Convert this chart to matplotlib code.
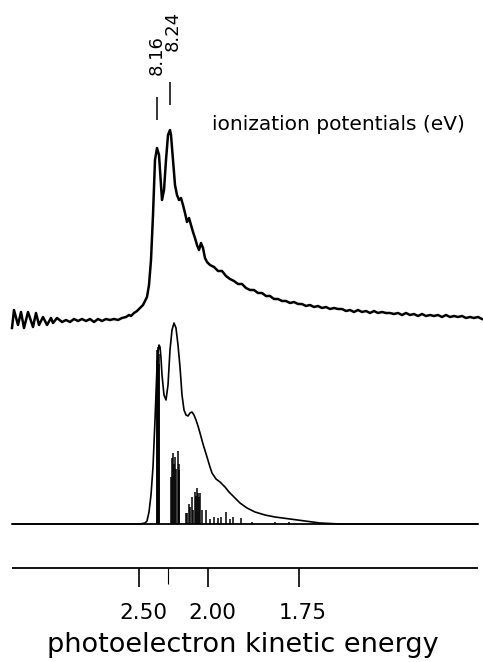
import matplotlib
matplotlib.use('Agg')
import matplotlib.pyplot as plt
import numpy as np

# 数据 (x 为通道坐标, 强度为相对基线的高度)
exp_x = [12, 14, 18, 21, 24, 28, 33, 36, 39, 43, 47, 51, 53, 57, 62,
         66, 70, 74, 78, 82, 86, 90, 94, 98, 102, 106, 110, 114, 118, 122,
         126, 129, 131, 134, 137, 140, 143, 147, 149, 151, 153, 155, 157, 159,
         161, 162, 164, 166, 168, 170, 171, 173, 175, 177, 179, 181, 183, 185,
         187, 189, 191, 193, 195, 197, 199, 201, 203, 205, 207,
         210, 214, 218, 222, 226, 230, 234, 238, 242, 246, 250, 254, 258, 262,
         266, 270, 274, 278, 282, 286, 290, 294, 298, 302, 306, 310, 314, 318,
         322, 326, 330, 334, 338, 342, 346, 350, 354, 358, 362, 366, 370, 374,
         378, 382, 386, 390, 394, 398, 402, 406, 410, 414, 418, 422, 426, 430,
         434, 438, 442, 446, 450, 454, 458, 462, 466, 470, 474, 478, 482]
exp_y = [-8, 10, -5, 8, -8, 8, -7, 7, -5, 3, -5, 2, -3, 2, -2,
         0, -2, 1, -1, 1, -1, 1, -2, 1, -1, 1, 0, 1, 0, 2,
         3, 5, 4, 7, 9, 12, 15, 23, 35, 60, 105, 160, 172, 165,
         135, 120, 130, 160, 185, 190, 185, 160, 135, 125, 120, 122, 115, 107,
         98, 102, 95, 88, 82, 75, 70, 77, 72, 62, 58,
         55, 53, 49, 49, 44, 41, 39, 36, 36, 32, 30, 30, 27, 27,
         24, 24, 21, 21, 19, 19, 17, 18, 16, 16, 14, 15, 13, 14,
         12, 13, 11, 12, 11, 11, 9, 10, 8, 10, 8, 9, 7, 9,
         7, 8, 7, 7, 6, 7, 5, 7, 5, 6, 4, 6, 4, 5,
         4, 5, 3, 5, 3, 4, 3, 4, 2, 3, 2, 3, 1]

env_x = [12, 140, 145, 147, 149, 151, 153, 155, 157, 158, 159, 160, 161, 162,
         164, 166, 168, 170, 172, 174, 176, 178, 180, 182, 184, 186, 188, 190,
         192, 194, 196, 198, 200, 203, 207, 210, 212, 216, 220, 225, 229, 235,
         240, 247, 255, 265, 275, 290, 305, 320, 340, 478]
env_y = [0, 0, 1, 3, 12, 29, 57, 104, 157, 172, 179, 177, 166, 149,
         129, 124, 139, 174, 194, 201, 196, 179, 157, 129, 114, 109, 108, 111,
         112, 109, 104, 98, 91, 80, 67, 57, 51, 45, 42, 37, 32, 26,
         21, 16, 12, 9, 7, 5, 3, 1, 0, 0]

stick_x = [156.5, 157.2, 157.8, 158.5, 159.2, 171, 172, 173, 174, 175, 176,
           177.5, 178.5, 179, 186, 187, 189, 190, 191.5, 193, 195, 196, 197,
           198, 199, 200, 201.5, 206, 210, 214, 218, 221, 226, 230, 233, 241,
           252, 275, 289]
stick_h = [164, 174, 177, 170, 160, 47, 66, 71, 60, 67, 55,
           73, 60, 54, 11, 11, 20, 17, 27, 14, 32, 28, 36,
           31, 27, 31, 14, 14, 5, 7, 6, 7, 12, 5, 7, 6,
           2, 2, 2]

tick_pos = [139, 208, 299]
tick_labels = ['2.50', '2.00', '1.75']
minor_tick_pos = [168]

ip_pos = [157, 170]
ip_labels = ['8.16', '8.24']

# 位置 (像素布局)
EXP_BASE = 342
SIM_BASE = 138
AXIS_Y = 94

fig = plt.figure(figsize=(4.83, 6.62), dpi=100)
ax = fig.add_axes([0, 0, 1, 1])
ax.set_xlim(0, 483)
ax.set_ylim(0, 662)
ax.axis('off')

# 实验谱
ax.plot(exp_x, np.array(exp_y) + EXP_BASE, color='black', lw=1.8,
        solid_joinstyle='round')

# 模拟谱: 包络 + 棒状线
ax.hlines(SIM_BASE, 12, 478, color='black', lw=1.3)
ax.plot(env_x, np.array(env_y) + SIM_BASE, color='black', lw=1.2)
ax.vlines(stick_x, SIM_BASE, np.array(stick_h) + SIM_BASE, color='black', lw=1.1)

# 能量轴
ax.hlines(AXIS_Y, 12, 478, color='black', lw=1.3)
ax.vlines(tick_pos, AXIS_Y - 19, AXIS_Y, color='black', lw=1.2)
ax.vlines(minor_tick_pos, AXIS_Y - 16, AXIS_Y, color='black', lw=0.8)
for p, lab in zip(tick_pos, tick_labels):
    ax.text(p + 4, AXIS_Y - 45, lab, ha='center', va='center', fontsize=15.5)
ax.text(243, 17, 'photoelectron kinetic energy', ha='center', va='center',
        fontsize=19.5)

# 电离势标记
ax.vlines(ip_pos[0], 662 - 120, 662 - 97, color='black', lw=1.1)
ax.vlines(ip_pos[1], 662 - 105, 662 - 82, color='black', lw=1.1)
ax.text(ip_pos[0], 662 - 55, ip_labels[0], rotation=90, ha='center',
        va='center', fontsize=13)
ax.text(ip_pos[1] + 3, 662 - 31, ip_labels[1], rotation=90, ha='center',
        va='center', fontsize=13)
ax.text(212, 662 - 125, 'ionization potentials (eV)', ha='left',
        va='center', fontsize=14.5)

fig.savefig('out.png', dpi=100)
